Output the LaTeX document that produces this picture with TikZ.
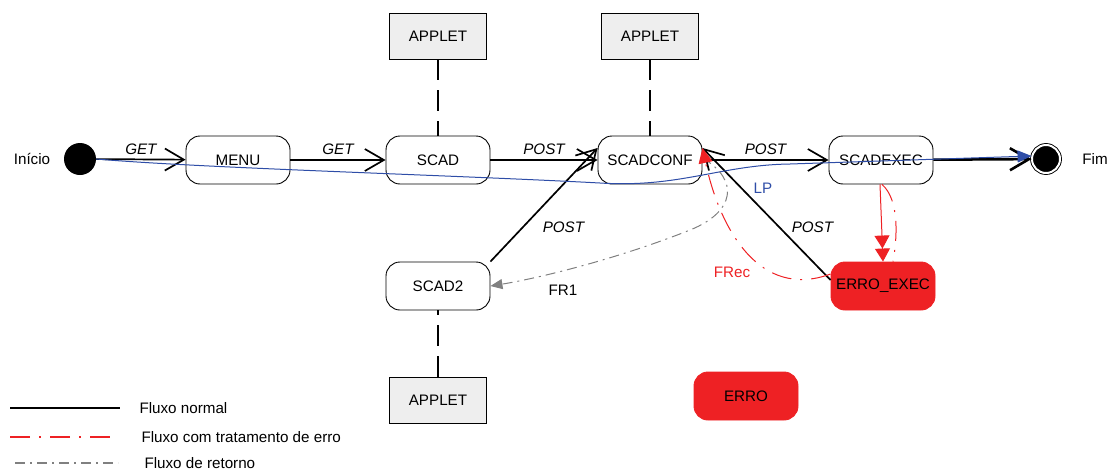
\documentclass[tikz,border=0pt]{standalone}
\usepackage{fontspec}
\setmainfont{Liberation Sans}
\usepackage{tikz}
\usetikzlibrary{arrows.meta,calc,positioning,shapes}
\definecolor{errored}{HTML}{EE2124}
\definecolor{appletgray}{HTML}{EEEEEE}
\definecolor{lpblue}{HTML}{2E4DA7}

\begin{document}
\begin{tikzpicture}[x=1pt,y=-1pt,
  every node/.style={font=\fontsize{15.2}{17}\selectfont},
  state/.style={draw,rounded corners=14pt,minimum width=104pt,minimum height=48pt,line width=0.9pt},
  erro/.style={state,fill=errored,draw=errored},
  applet/.style={draw,fill=appletgray,minimum width=97pt,minimum height=46pt,line width=0.8pt},
  normal/.style={line width=1.7pt,-{Straight Barb[length=19pt,width=22pt]}},
  trat/.style={errored,line width=1pt,dash pattern=on 20pt off 9pt on 2pt off 9pt},
  retorno/.style={gray,line width=1pt,dash pattern=on 10pt off 5pt on 2pt off 5pt},
  link/.style={line width=2pt,dash pattern=on 21pt off 10pt},
  lbl/.style={font=\fontsize{15.2}{17}\selectfont\itshape}]
\useasboundingbox (0,0) rectangle (1110,471);

% estados
\node (inicio) at (80,159) [circle,fill=black,minimum size=32pt,inner sep=0pt] {};
\node (fim) at (1046,159) [circle,fill=black,draw=black,line width=0.9pt,double=white,double distance=2pt,minimum size=28pt,inner sep=0pt] {};
\node at (32,159) {Início};
\node at (1095,159) {Fim};

\node (menu) at (238,160) [state] {MENU};
\node (scad) at (438,160) [state] {SCAD};
\node (scadconf) at (650,160) [state] {SCADCONF};
\node (scadexec) at (881,160) [state] {SCADEXEC};
\node (scad2) at (438,286) [state] {SCAD2};
\node (erroexec) at (883,286) [erro] {ERRO\_EXEC};
\node (erro) at (746,396) [erro] {ERRO};

\node (applet1) at (438,36) [applet] {APPLET};
\node (applet2) at (650,36) [applet] {APPLET};
\node (applet3) at (438,400) [applet] {APPLET};

\draw[link] (applet1) -- (scad);
\draw[link] (applet2) -- (scadconf);
\draw[link] (applet3) -- (scad2);

% fluxo normal
\draw[normal] (inicio) -- node[lbl,above=1pt] {GET} (menu);
\draw[normal] (menu) -- node[lbl,above=1pt] {GET} (scad);
\draw[normal] (scad) -- node[lbl,above=1pt] {POST} (scadconf);
\draw[normal] (scadconf) -- node[lbl,above=1pt] {POST} (scadexec);
\draw[normal,line width=2.6pt] (scadexec) -- (fim);
\draw[normal] (scad2.north east) -- node[lbl,pos=0.3,right=16pt] {POST} ([yshift=12pt]scadconf.west);
\draw[normal] ([yshift=6pt]erroexec.west) -- node[lbl,pos=0.33,above right=-1pt] {POST} ([yshift=12pt]scadconf.east);

% LP
\draw[lpblue,line width=1pt,-{Triangle[length=14pt,width=12pt]}] (inicio.east) .. controls (200,168) and (450,175) .. (600,183)
  .. controls (680,188) and (720,165) .. (790,164) -- ([yshift=3pt]fim.west);
\node[lpblue] at (763,188) {LP};

% retorno
\draw[retorno,-{Triangle[length=12pt,width=10pt]}] ([yshift=2pt]scadconf.east) .. controls (740,180) and (735,212) .. (690,230)
  .. controls (620,258) and (540,278) .. (scad2.east);
\node at (563,290) {FR1};

% tratamento de erro
\draw[trat,-{Triangle[length=15pt,width=14pt]}] ([yshift=12pt]erroexec.west) .. controls (760,300) and (720,230) .. ([yshift=12pt]scadconf.east);
\node[errored] at (732,272) {FRec};
\draw[errored,line width=1pt,-{Triangle[length=13pt,width=15pt]Triangle[length=13pt,width=15pt]}] ([xshift=-1pt]scadexec.south) -- (erroexec.north);
\draw[trat] ([xshift=1pt]scadexec.south) .. controls (900,200) and (897,240) .. ([xshift=10pt]erroexec.north);

% legenda
\coordinate (n1) at (10,408); \coordinate (n2) at (120,408);
\coordinate (t1) at (10,437); \coordinate (t2) at (118,437);
\coordinate (r1) at (15,463); \coordinate (r2) at (118,463);
\draw[line width=1.6pt] (n1) -- (n2);
\draw[trat,line width=1.3pt] (t1) -- (t2);
\draw[retorno,line width=1.4pt] (r1) -- (r2);
\node[anchor=west] at (136,408) {Fluxo normal};
\node[anchor=west] at (138,437) {Fluxo com tratamento de erro};
\node[anchor=west] at (141,463) {Fluxo de retorno};
\end{tikzpicture}
\end{document}
